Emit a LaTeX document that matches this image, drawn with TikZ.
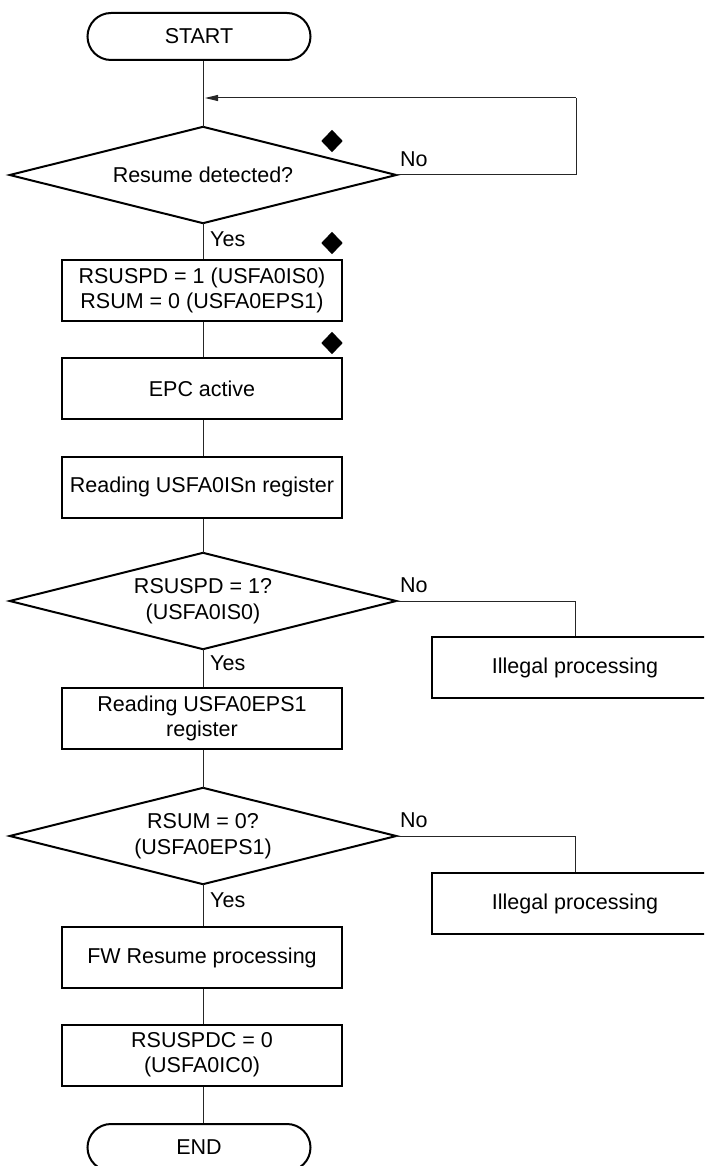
\documentclass[tikz,border=0pt]{standalone}
\usepackage{fontspec}
\setmainfont{Liberation Sans}
\usetikzlibrary{shapes.misc,arrows.meta}

\tikzset{
  base/.style={draw=black, line width=2pt, font=\fontsize{21.5}{25}\selectfont, align=center, inner sep=0pt},
  procbox/.style={base, rectangle, minimum width=280pt, minimum height=61pt},
  % decision frame: the rhombus is drawn through its four anchors
  decision/.style={font=\fontsize{21.5}{26}\selectfont, align=center, inner sep=0pt,
    rectangle, minimum width=386pt, minimum height=96pt},
  rhombus/.style={draw=black, line width=2pt, line join=miter},
  terminal/.style={base, rounded rectangle, minimum width=223pt, minimum height=47pt},
  flow/.style={draw=black!85, line width=1pt},
  markerframe/.style={rectangle, minimum width=21pt, minimum height=22pt, inner sep=0pt},
  lbl/.style={font=\fontsize{21.5}{25}\selectfont, inner sep=0pt, anchor=west},
}

\begin{document}
\begin{tikzpicture}[x=1pt, y=-1pt]
  \useasboundingbox (0,0) rectangle (704,1166);
  \clip (0,0) rectangle (704,1166);

  % main column
  \node[terminal] (start) at (199,36.5) {START};
  \node[decision] (d1) at (203,175) {Resume detected?};
  \node[procbox] (b1) at (202,290.5) {RSUSPD = 1 (USFA0IS0)\\RSUM = 0 (USFA0EPS1)};
  \node[procbox] (b2) at (202,388.5) {EPC active};
  \node[procbox] (b3) at (202,487) {Reading USFA0ISn register};
  \node[decision] (d2) at (203,601) {RSUSPD = 1?\\(USFA0IS0)};
  \node[procbox] (b4) at (202,718) {Reading USFA0EPS1\\register};
  \node[decision] (d3) at (203,836) {RSUM = 0?\\(USFA0EPS1)};
  \node[procbox] (b5) at (202,957.5) {FW Resume processing};
  \node[procbox] (b6) at (202,1055) {RSUSPDC = 0\\(USFA0IC0)};
  \node[terminal] (end) at (199,1147.5) {END};

  \foreach \d in {d1,d2,d3}
    \draw[rhombus] (\d.north) -- (\d.east) -- (\d.south) -- (\d.west) -- cycle;

  % error branches
  \node[procbox, minimum width=286pt] (il1) at (575,667.5) {Illegal processing};
  \node[procbox, minimum width=286pt] (il2) at (575,903.5) {Illegal processing};

  % filled markers
  \node[markerframe] (m1) at (332,141) {};
  \node[markerframe] (m2) at (332,243) {};
  \node[markerframe] (m3) at (332,343) {};
  \foreach \m in {m1,m2,m3}
    \fill (\m.north) -- (\m.east) -- (\m.south) -- (\m.west) -- cycle;

  % loop-back coordinates
  \coordinate (lpR) at (576,175);
  \coordinate (lpT) at (576,98);
  \coordinate (lpE) at (205,98);

  % connectors
  \draw[flow] (start.south -| d1.north) -- (d1.north);
  \draw[flow] (d1.east) -- (lpR) -- (lpT);
  \draw[flow, -{Triangle[length=13pt,width=6pt]}] (lpT) -- (lpE);
  \draw[flow] (d1.south) -- (d1.south |- b1.north);
  \draw[flow] (b1.south -| d1.south) -- (b2.north -| d1.south);
  \draw[flow] (b2.south -| d1.south) -- (b3.north -| d1.south);
  \draw[flow] (b3.south -| d1.south) -- (d2.north);
  \draw[flow] (d2.south) -- (d2.south |- b4.north);
  \draw[flow] (d2.east) -| (il1.north);
  \draw[flow] (b4.south -| d2.south) -- (d3.north);
  \draw[flow] (d3.south) -- (d3.south |- b5.north);
  \draw[flow] (d3.east) -| (il2.north);
  \draw[flow] (b5.south -| d3.south) -- (b6.north -| d3.south);
  \draw[flow] (b6.south -| d3.south) -- (end.north -| d3.south);

  % branch labels
  \node[lbl] (n1) at (400,159) {No};
  \node[lbl] (y1) at (210,239) {Yes};
  \node[lbl] (n2) at (400,585) {No};
  \node[lbl] (y2) at (210,663) {Yes};
  \node[lbl] (n3) at (400,820) {No};
  \node[lbl] (y3) at (210,900) {Yes};
\end{tikzpicture}
\end{document}
